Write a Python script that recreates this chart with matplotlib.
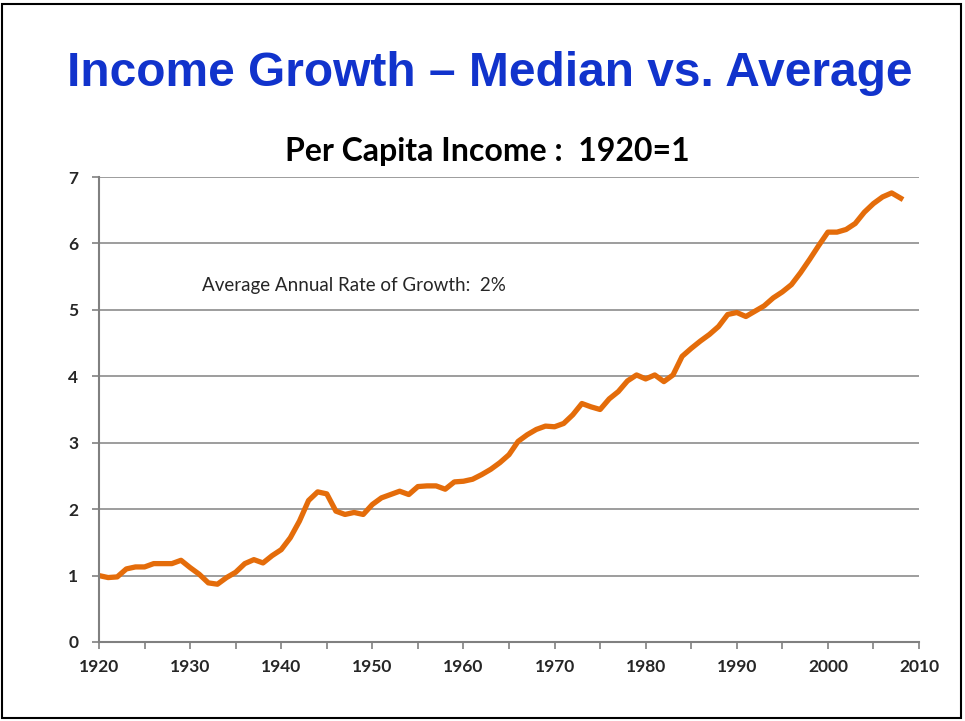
import matplotlib
matplotlib.use("Agg")
from matplotlib import pyplot as plt
from matplotlib.patches import Rectangle
import numpy as np

# per capita income, 1920 = 1
years = list(range(1920, 2009))
income = [1.00, 0.97, 0.98, 1.10, 1.13, 1.13, 1.18, 1.18, 1.18, 1.23,
          1.12, 1.02, 0.89, 0.87, 0.97, 1.05, 1.18, 1.24, 1.19, 1.30,
          1.39, 1.57, 1.82, 2.13, 2.26, 2.23, 1.97, 1.92, 1.95, 1.92,
          2.07, 2.17, 2.22, 2.27, 2.22, 2.34, 2.35, 2.35, 2.30, 2.41,
          2.42, 2.45, 2.52, 2.60, 2.70, 2.82, 3.02, 3.12, 3.20, 3.25,
          3.24, 3.29, 3.42, 3.59, 3.54, 3.50, 3.66, 3.77, 3.93, 4.02,
          3.96, 4.02, 3.92, 4.02, 4.30, 4.42, 4.53, 4.63, 4.75, 4.93,
          4.96, 4.90, 4.98, 5.06, 5.18, 5.27, 5.38, 5.56, 5.76, 5.97,
          6.17, 6.17, 6.21, 6.30, 6.47, 6.60, 6.70, 6.76, 6.68]
x_ticks = list(range(1920, 2011, 10))
y_ticks = list(range(0, 8))

W, H = 965, 721
fig = plt.figure(figsize=(W / 100, H / 100), dpi=100)
fig.patch.set_facecolor('white')

# slide frame
fig.add_artist(Rectangle((2 / W, 3 / H), 959 / W, 714 / H, transform=fig.transFigure,
                         fill=False, edgecolor='black', linewidth=1.5))

fig.text(490 / W, 1 - 74 / H, 'Income Growth \u2013 Median vs. Average',
         ha='center', va='center', fontsize=34.5, fontweight='bold',
         color='#1133cc', family='Liberation Sans')
fig.text(487 / W, 1 - 151 / H, 'Per Capita Income :  1920=1',
         ha='center', va='center', fontsize=23, fontweight='bold',
         color='black', family='Lato')

ax = fig.add_axes([99 / W, 1 - 642 / H, 820 / W, 465 / H])
ax.plot(years, income, color='#e46c0a', linewidth=3.8, solid_joinstyle='round')

ax.set_xlim(1920, 2010)
ax.set_ylim(0, 7)
ax.set_xticks(x_ticks)
ax.set_xticks(range(1925, 2010, 10), minor=True)
ax.set_yticks(y_ticks)
ax.grid(axis='y', color='#8c8c8c', linewidth=1.2)
ax.set_axisbelow(True)

for side in ['top', 'right']:
    ax.spines[side].set_visible(False)
for side in ['left', 'bottom']:
    ax.spines[side].set_color('#808080')
    ax.spines[side].set_linewidth(1.5)

ax.tick_params(axis='x', which='both', direction='out', length=5, color='#808080',
               width=1.2, labelsize=12.5, pad=7)
ax.tick_params(axis='y', direction='out', length=5, color='#808080',
               width=1.2, labelsize=12.5, pad=10)
for lbl in ax.get_xticklabels() + ax.get_yticklabels():
    lbl.set_family('Lato')
    lbl.set_fontweight('bold')
    lbl.set_color('#262626')

ax.text(1931.3, 5.37, 'Average Annual Rate of Growth:  2%', fontsize=13.5,
        family='Lato', color='#262626', va='center')

plt.savefig('out.png', dpi=100)
